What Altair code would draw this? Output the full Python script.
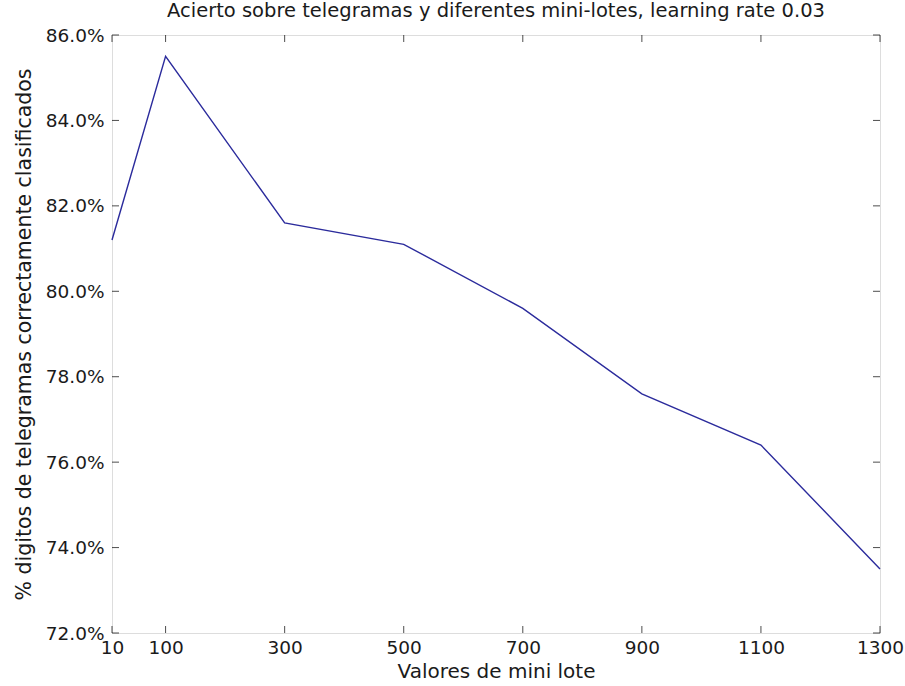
import altair as alt
import pandas as pd

batch = [10, 100, 300, 500, 700, 900, 1100, 1300]
accuracy = [81.2, 85.5, 81.6, 81.1, 79.6, 77.6, 76.4, 73.5]
x_ticks = [10, 100, 300, 500, 700, 900, 1100, 1300]
y_ticks = [72, 74, 76, 78, 80, 82, 84, 86]

df = pd.DataFrame({"batch": batch, "acc": accuracy})
xt = pd.DataFrame({"v": x_ticks})
yt = pd.DataFrame({"v": y_ticks})

W, H = 768, 598
FONT = "DejaVu Sans"
TXT = "#1a1a1a"

xscale = alt.Scale(domain=[10, 1300], nice=False, zero=False)
yscale = alt.Scale(domain=[72, 86], nice=False, zero=False)

line = alt.Chart(df).mark_line(color="#2b2b9c", strokeWidth=1.4).encode(
    x=alt.X("batch:Q", scale=xscale,
            axis=alt.Axis(values=x_ticks, title="Valores de mini lote", tickSize=0, format="d",
                          labelPadding=5, domain=False, grid=False, labelFlush=False,
                          labelFontSize=18.5, titleFontSize=20, titleFontWeight="normal",
                          labelColor=TXT, titleColor=TXT, titlePadding=5,
                          labelFont=FONT, titleFont=FONT)),
    y=alt.Y("acc:Q", scale=yscale,
            axis=alt.Axis(values=y_ticks, title="% digitos de telegramas correctamente clasificados",
                          tickSize=0, labelPadding=8, domain=False, grid=False, labelFlush=False,
                          labelExpr="format(datum.value, '.1f') + '%'",
                          labelFontSize=18.5, titleFontSize=20.5, titleFontWeight="normal",
                          labelColor=TXT, titleColor=TXT, titlePadding=11,
                          labelFont=FONT, titleFont=FONT)),
)

xb = alt.Chart(xt).mark_tick(color="black", size=7, thickness=1, orient="vertical").encode(
    x=alt.X("v:Q", scale=xscale), y=alt.value(H - 3.5))
xtop = alt.Chart(xt).mark_tick(color="black", size=7, thickness=1, orient="vertical").encode(
    x=alt.X("v:Q", scale=xscale), y=alt.value(3.5))
yl = alt.Chart(yt).mark_tick(color="black", size=7, thickness=1, orient="horizontal").encode(
    y=alt.Y("v:Q", scale=yscale), x=alt.value(3.5))
yr = alt.Chart(yt).mark_tick(color="black", size=7, thickness=1, orient="horizontal").encode(
    y=alt.Y("v:Q", scale=yscale), x=alt.value(W - 3.5))

chart = alt.layer(line, xb, xtop, yl, yr).properties(
    width=W, height=H,
    title=alt.TitleParams("Acierto sobre telegramas y diferentes mini-lotes, learning rate 0.03",
                          font=FONT, fontSize=19.5, fontWeight="normal", color=TXT, offset=5),
    autosize=alt.AutoSizeParams(type="none"),
    padding={"left": 112, "top": 35, "right": 25, "bottom": 53},
).configure_view(stroke="black", strokeWidth=1.3).configure(background="white")

chart.save("out.html", embed_options={"renderer": "svg", "actions": False})
